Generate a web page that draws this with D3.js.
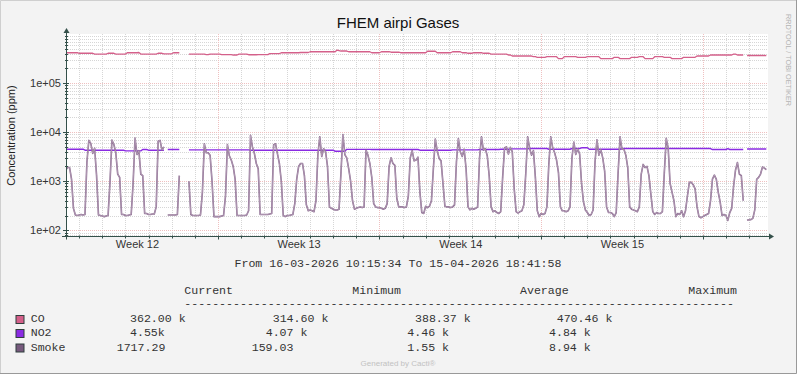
<!DOCTYPE html>
<html>
<head>
<meta charset="utf-8">
<script src="https://cdn.jsdelivr.net/npm/d3@7"></script>
<style>
  body { margin: 0; background: #f3f3f3; }
  svg { display: block; }
  .sans { font-family: "Liberation Sans", Arial, sans-serif; }
  .mono { font-family: "Liberation Mono", "Courier New", monospace; font-size: 11.6px; fill: #333; }
</style>
</head>
<body>
<svg id="chart" width="797" height="374"></svg>
<script>
"use strict"

// time range of the graph and the 2-hour sample grid (first sample Mar 16 10:00 UTC)
const startTime = new Date(Date.UTC(2026, 2, 16, 10, 15, 34))
const endTime = new Date(Date.UTC(2026, 3, 15, 18, 41, 58))
const firstSample = new Date(Date.UTC(2026, 2, 16, 10, 0, 0))
const stepHours = 2

// Smoke, ppm (one row per day, 00h..22h every 2h)
const smoke = [
  1700,1900,1900,1100,280,205,200,
  205,210,205,210,2500,6800,5900,3700,4700,1330,205,200,
  195,190,195,200,1000,6900,5600,3800,1400,1200,210,210,
  200,200,205,210,900,7600,3500,4200,1400,1300,220,220,
  210,210,215,215,300,6500,6800,4300,5000,null,205,205,
  205,205,205,210,1300,null,null,null,null,1000,210,200,
  200,200,200,205,600,5800,3800,3800,3400,1000,190,190,
  190,190,195,200,500,5600,3300,2700,2000,1100,200,200,
  200,200,200,205,250,8600,5000,3700,2300,1800,210,210,
  210,210,210,215,220,5500,5800,3600,2300,1000,200,190,
  200,200,205,210,350,1100,2000,2300,2300,1300,330,250,
  260,250,240,400,3500,8000,3200,4600,4000,2000,300,280,
  270,260,260,270,1500,8940,3500,3000,1800,1000,400,270,
  280,290,300,290,300,4300,3400,2300,1200,350,300,290,
  290,280,270,280,350,2000,3000,2300,2100,450,300,300,
  300,290,300,500,3000,4200,2600,2700,3100,600,230,220,
  310,290,310,400,1800,7200,4200,2900,2600,900,310,300,
  300,290,300,330,2500,7400,4000,3200,4500,1800,300,260,
  280,270,280,300,3000,8000,4300,4600,3300,1300,300,240,
  250,230,220,240,1200,4800,5000,3600,4900,4000,700,240,
  225,240,250,330,1400,8000,4700,3400,4200,1200,250,190,
  220,210,220,300,2300,8000,4800,3800,2700,1500,300,250,
  250,240,250,300,3000,6300,3500,4600,3600,900,380,260,
  230,200,210,260,2500,7000,3400,4400,3000,1600,300,230,
  230,220,190,230,1500,8000,4500,4500,3400,1900,300,270,
  260,250,240,300,1400,2200,1900,2000,1300,550,240,210,
  230,220,220,240,1500,7500,4800,900,600,400,190,220,
  210,250,190,250,500,950,950,850,700,300,190,180,
  190,200,210,220,400,1100,1330,1100,600,380,200,210,
  200,159,230,280,800,1700,2400,1400,1300,400,null,160,
  165,165,175,260,1100,1200,1400,1950,1850,1717.29
]

// CO, thousands of ppm
const coK = [
  415,415,415,415,415,415,415,
  405,405,405,405,405,405,405,405,390,390,390,390,
  390,390,390,405,405,405,405,390,390,390,390,390,
  390,415,415,415,415,415,415,420,390,390,390,390,
  390,390,390,390,390,405,405,405,395,395,395,395,
  395,415,415,415,415,null,null,null,null,390,390,390,
  390,390,390,390,390,390,380,380,390,390,390,390,
  390,390,380,380,380,380,380,380,373,373,373,390,
  390,390,390,390,378,378,378,378,378,380,380,380,
  380,380,380,398,398,398,398,398,398,415,415,415,
  415,415,415,415,415,415,415,420,420,420,420,420,
  435,435,435,435,435,435,435,435,435,435,435,435,
  435,435,470,460,450,450,450,450,435,435,435,435,
  435,435,435,435,435,435,435,435,415,415,415,415,
  415,435,435,435,435,435,425,425,425,425,425,415,
  415,415,415,415,415,415,415,415,415,415,415,415,
  415,445,445,445,445,445,415,415,415,415,415,415,
  415,415,435,435,435,435,435,415,415,415,405,405,
  405,415,415,415,415,415,405,405,405,405,390,390,
  390,390,390,390,390,390,390,373,373,356,356,356,
  356,356,356,356,356,356,356,356,345,345,335,335,
  335,335,335,345,345,345,345,345,345,315,315,315,
  345,345,345,345,345,345,345,335,335,335,335,335,
  345,345,345,345,345,345,345,315,315,315,315,315,
  315,315,335,335,335,314.6,315,315,315,315,315,335,
  335,335,335,345,345,345,315,315,315,315,315,345,
  345,345,345,345,335,335,335,335,315,315,315,315,
  315,315,335,335,335,335,335,335,335,356,356,356,
  356,356,356,356,373,373,373,373,373,373,373,373,
  373,373,373,373,390,390,373,373,373,373,null,365,
  365,365,365,365,365,365,365,365,365,362
]

// NO2, thousands of ppm
const no2K = [
  4.49,4.49,4.49,4.49,4.49,4.49,4.49,
  4.49,4.49,4.49,4.29,4.29,4.29,4.29,4.29,4.29,4.29,4.29,4.29,
  4.29,4.29,4.29,4.29,4.29,4.29,4.29,4.29,4.29,4.29,4.29,4.29,
  4.15,4.15,4.15,4.15,4.15,4.15,4.15,4.15,4.15,4.43,4.43,4.43,
  4.29,4.29,4.29,4.29,4.29,4.29,4.29,4.29,4.29,null,4.43,4.43,
  4.43,4.43,4.43,4.43,4.43,null,null,null,null,4.36,4.36,4.36,
  4.36,4.36,4.36,4.36,4.36,4.36,4.36,4.36,4.36,4.36,4.36,4.36,
  4.36,4.36,4.36,4.36,4.36,4.36,4.36,4.36,4.36,4.36,4.36,4.36,
  4.36,4.36,4.36,4.36,4.36,4.29,4.29,4.29,4.29,4.29,4.29,4.29,
  4.29,4.29,4.29,4.29,4.29,4.29,4.29,4.29,4.29,4.29,4.29,4.29,
  4.29,4.29,4.29,4.29,4.29,4.29,4.29,4.29,4.29,4.29,4.29,4.29,
  4.29,4.29,4.29,4.29,4.29,4.29,4.29,4.29,4.29,4.29,4.29,4.29,
  4.29,4.07,4.07,4.07,4.07,4.07,4.07,4.46,4.46,4.46,4.46,4.46,
  4.46,4.46,4.46,4.46,4.46,4.46,4.46,4.46,4.43,4.43,4.43,4.43,
  4.43,4.43,4.43,4.43,4.43,4.43,4.43,4.43,4.43,4.43,4.43,4.43,
  4.43,4.43,4.43,4.43,4.43,4.43,4.43,4.43,4.43,4.29,4.29,4.29,
  4.29,4.29,4.29,4.29,4.29,4.29,4.29,4.29,4.29,4.29,4.29,4.29,
  4.29,4.29,4.36,4.36,4.36,4.36,4.36,4.36,4.36,4.36,4.36,4.36,
  4.36,4.36,4.36,4.36,4.43,4.43,4.43,4.43,4.43,4.43,4.43,4.43,
  4.43,4.43,4.43,4.49,4.49,4.49,4.49,4.49,4.49,4.57,4.57,4.57,
  4.57,4.57,4.57,4.57,4.57,4.57,4.64,4.64,4.64,4.64,4.64,4.64,
  4.64,4.64,4.64,4.64,4.49,4.49,4.49,4.49,4.49,4.49,4.49,4.49,
  4.49,4.49,4.49,4.49,4.64,4.64,4.64,4.64,4.64,4.8,4.84,4.8,
  4.8,4.49,4.49,4.49,4.49,4.49,4.49,4.49,4.49,4.49,4.49,4.49,
  4.49,4.49,4.49,4.49,4.49,4.49,4.64,4.64,4.64,4.64,4.64,4.64,
  4.64,4.64,4.64,4.64,4.64,4.64,4.64,4.64,4.64,4.64,4.64,4.64,
  4.64,4.64,4.64,4.64,4.64,4.64,4.64,4.64,4.64,4.64,4.64,4.64,
  4.64,4.64,4.64,4.64,4.64,4.64,4.64,4.64,4.64,4.64,4.64,4.64,
  4.64,4.64,4.64,4.64,4.64,4.43,4.43,4.43,4.43,4.43,4.43,4.43,
  4.43,4.6,4.43,4.43,4.43,4.43,4.43,4.43,4.43,4.43,null,4.55,
  4.55,4.55,4.55,4.55,4.55,4.55,4.55,4.55,4.55,4.55
]

const yTickValues = [1e2, 1e3, 1e4, 1e5]
const yTickLabels = ["1e+02", "1e+03", "1e+04", "1e+05"]

const legendNames = ["CO", "NO2", "Smoke"]
const legendHeaders = ["Current", "Minimum", "Average", "Maximum"]
const statCurrent = ["362.00 k", "4.55k", "1717.29"]
const statMinimum = ["314.60 k", "4.07 k", "159.03"]
const statAverage = ["388.37 k", "4.46 k", "1.55 k"]
const statMaximum = ["470.46 k", "4.84 k", "8.94 k"]

const title = "FHEM airpi Gases"
const yTitle = "Concentration (ppm)"

// ---- layout
const W = 797, H = 374
const plot = { left: 66, right: 767, top: 34, bottom: 236.5 }
const axisColor = "#34504a"
const colors = { CO: "#d4608a", NO2: "#8a2be2", Smoke: "#76597c" }

const svg = d3.select("#chart")

svg.append("rect").attr("width", W).attr("height", H).attr("fill", "#f3f3f3")
svg.append("path").attr("d", `M0.5,${H}V0.5H${W}`).attr("fill", "none").attr("stroke", "#cfcfcf")
svg.append("path").attr("d", `M0,${H - 0.5}H${W - 0.5}V0`).attr("fill", "none").attr("stroke", "#999")

const x = d3.scaleUtc().domain([startTime, endTime]).range([plot.left, plot.right])
const y = d3.scaleLog().domain([74.8, 1e6]).range([plot.bottom, plot.top])

svg.append("rect")
    .attr("x", plot.left).attr("y", plot.top)
    .attr("width", plot.right + 1 - plot.left).attr("height", plot.bottom - plot.top)
    .attr("fill", "#fff")

const crisp = v => Math.round(v) + 0.5

// grid
const grid = svg.append("g").attr("fill", "none").attr("stroke-dasharray", "1,1")

let minorY = []
for (let k = 1; k <= 5; k++) {
    for (let m = 2; m <= 9; m++) {
        let v = m * Math.pow(10, k)
        if (v > y.domain()[0] && v < 1e6) minorY.push(v)
    }
}
grid.selectAll(".hminor").data(minorY).enter().append("line")
    .attr("x1", plot.left).attr("x2", plot.right + 1)
    .attr("y1", d => crisp(y(d))).attr("y2", d => crisp(y(d)))
    .attr("stroke", "#d6d6d6")

const days = d3.utcDay.range(d3.utcDay.ceil(startTime), endTime)
const mondays = d3.utcMonday.range(startTime, endTime)
grid.selectAll(".vminor").data(days.filter(d => d.getUTCDay() !== 1)).enter().append("line")
    .attr("x1", d => crisp(x(d))).attr("x2", d => crisp(x(d)))
    .attr("y1", plot.top).attr("y2", plot.bottom)
    .attr("stroke", "#d6d6d6")

grid.selectAll(".hmajor").data(yTickValues).enter().append("line")
    .attr("x1", plot.left).attr("x2", plot.right + 1)
    .attr("y1", d => crisp(y(d))).attr("y2", d => crisp(y(d)))
    .attr("stroke", "#efc0c0")
grid.selectAll(".vmajor").data(mondays).enter().append("line")
    .attr("x1", d => crisp(x(d))).attr("x2", d => crisp(x(d)))
    .attr("y1", plot.top).attr("y2", plot.bottom)
    .attr("stroke", "#efc0c0")

// series
svg.append("clipPath").attr("id", "clip").append("rect")
    .attr("x", plot.left).attr("y", plot.top)
    .attr("width", plot.right + 1 - plot.left).attr("height", plot.bottom - plot.top)

const timeAt = i => d3.utcHour.offset(firstSample, i * stepHours)
const toPoints = (arr, mult) => arr.map((v, i) => ({ t: timeAt(i), v: v === null ? null : v * mult }))

const line = d3.line()
    .defined(d => d.v !== null)
    .x(d => x(d.t))
    .y(d => y(d.v))

const series = svg.append("g").attr("clip-path", "url(#clip)").attr("fill", "none")
    .attr("stroke-linejoin", "round")

series.append("path").datum(toPoints(coK, 1000))
    .attr("d", line).attr("stroke", colors.CO).attr("stroke-width", 1.3)
series.append("path").datum(toPoints(no2K, 1000))
    .attr("d", line).attr("stroke", colors.NO2).attr("stroke-width", 1.4)
series.append("path").datum(toPoints(smoke, 1))
    .attr("d", line).attr("stroke", "#86658b").attr("stroke-width", 1.6)
series.append("path").datum(toPoints(smoke, 1))
    .attr("d", line).attr("stroke", "#c7b6ca").attr("stroke-width", 0.6)

// axes
const axes = svg.append("g").attr("stroke", axisColor).attr("fill", "none")
axes.append("line").attr("x1", plot.left + 0.5).attr("x2", plot.left + 0.5)
    .attr("y1", plot.bottom + 3).attr("y2", plot.top - 3)
axes.append("line").attr("x1", plot.left - 4).attr("x2", plot.right + 2)
    .attr("y1", plot.bottom).attr("y2", plot.bottom)
axes.selectAll(".ytick").data(yTickValues).enter().append("line")
    .attr("x1", plot.left - 3).attr("x2", plot.left + 3)
    .attr("y1", d => crisp(y(d))).attr("y2", d => crisp(y(d)))
axes.selectAll(".ymtick").data(minorY).enter().append("line")
    .attr("x1", plot.left - 1).attr("x2", plot.left + 2)
    .attr("y1", d => crisp(y(d))).attr("y2", d => crisp(y(d)))
axes.selectAll(".xtick").data(days).enter().append("line")
    .attr("x1", d => crisp(x(d))).attr("x2", d => crisp(x(d)))
    .attr("y1", plot.bottom - 1).attr("y2", d => plot.bottom + (d.getUTCDay() === 1 ? 3 : 2))
svg.append("path").attr("fill", axisColor)
    .attr("d", `M${plot.left - 2.5},${plot.top - 1}L${plot.left + 3.5},${plot.top - 1}L${plot.left + 0.5},${plot.top - 6}Z`)
svg.append("path").attr("fill", axisColor)
    .attr("d", `M${plot.right + 2},${plot.bottom - 3}L${plot.right + 2},${plot.bottom + 3}L${plot.right + 7},${plot.bottom}Z`)

// axis labels through d3 axes
const yAxis = d3.axisLeft(y).tickValues(yTickValues)
    .tickFormat((d, i) => yTickLabels[i]).tickSize(0).tickPadding(4)
svg.append("g").attr("transform", `translate(${plot.left - 1},0)`).call(yAxis)
    .call(g => g.select(".domain").remove())
    .selectAll("text").attr("class", "sans").attr("font-size", 11).attr("fill", "#333")

// week labels sit in the middle of each ISO week (Thursday noon)
const weekCenters = mondays.map(d => d3.utcHour.offset(d, -84))
const xAxis = d3.axisBottom(x).tickValues(weekCenters)
    .tickFormat(d3.utcFormat("Week %V")).tickSize(0).tickPadding(4)
svg.append("g").attr("transform", `translate(0,${plot.bottom})`).call(xAxis)
    .call(g => g.select(".domain").remove())
    .selectAll("text").attr("class", "sans").attr("font-size", 11).attr("fill", "#333")

// titles
svg.append("text").attr("class", "sans").attr("x", 398).attr("y", 28)
    .attr("text-anchor", "middle").attr("font-size", 15).attr("fill", "#111").text(title)
svg.append("text").attr("class", "sans")
    .attr("transform", "translate(15,135.5) rotate(-90)")
    .attr("text-anchor", "middle").attr("font-size", 11).attr("fill", "#222").text(yTitle)
svg.append("text").attr("class", "sans")
    .attr("transform", "translate(786,60) rotate(90)")
    .attr("text-anchor", "middle").attr("font-size", 7.3).attr("fill", "#b4b4b4")
    .text("RRDTOOL / TOBI OETIKER")

const fmt = d3.utcFormat("%d-%m-%Y %H:%M:%S")
svg.append("text").attr("class", "mono").attr("x", 398).attr("y", 266.5)
    .attr("text-anchor", "middle")
    .text("From " + fmt(startTime) + " To " + fmt(endTime))

// legend
const headerX = [184.3, 352.3, 520, 688.3]
svg.selectAll(".hdr").data(legendHeaders).enter().append("text")
    .attr("class", "mono").attr("x", (d, i) => headerX[i]).attr("y", 294)
    .text(d => d)
svg.append("text").attr("class", "mono").attr("x", 184.3).attr("y", 307)
    .text("-".repeat(79))

const rowY = [322, 336, 350.5]
const cellX = [
    [130, 272.7, 415, 556.7],
    [130, 265.7, 407.3, 549],
    [116.7, 251.7, 407.3, 549]
]
const stats = [statCurrent, statMinimum, statAverage, statMaximum]

legendNames.forEach((name, r) => {
    svg.append("rect")
        .attr("x", 16).attr("y", rowY[r] - 6.5).attr("width", 8).attr("height", 8)
        .attr("fill", colors[name]).attr("stroke", "#2f3f3c").attr("stroke-width", 1)
    svg.append("text").attr("class", "mono").attr("x", 30.7).attr("y", rowY[r]).text(name)
    stats.forEach((col, c) => {
        svg.append("text").attr("class", "mono")
            .attr("x", cellX[r][c]).attr("y", rowY[r]).text(col[r])
    })
})

svg.append("text").attr("class", "sans").attr("x", 398).attr("y", 366)
    .attr("text-anchor", "middle").attr("font-size", 8).attr("fill", "#c2c2c2")
    .text("Generated by Cacti®")
</script>
</body>
</html>
